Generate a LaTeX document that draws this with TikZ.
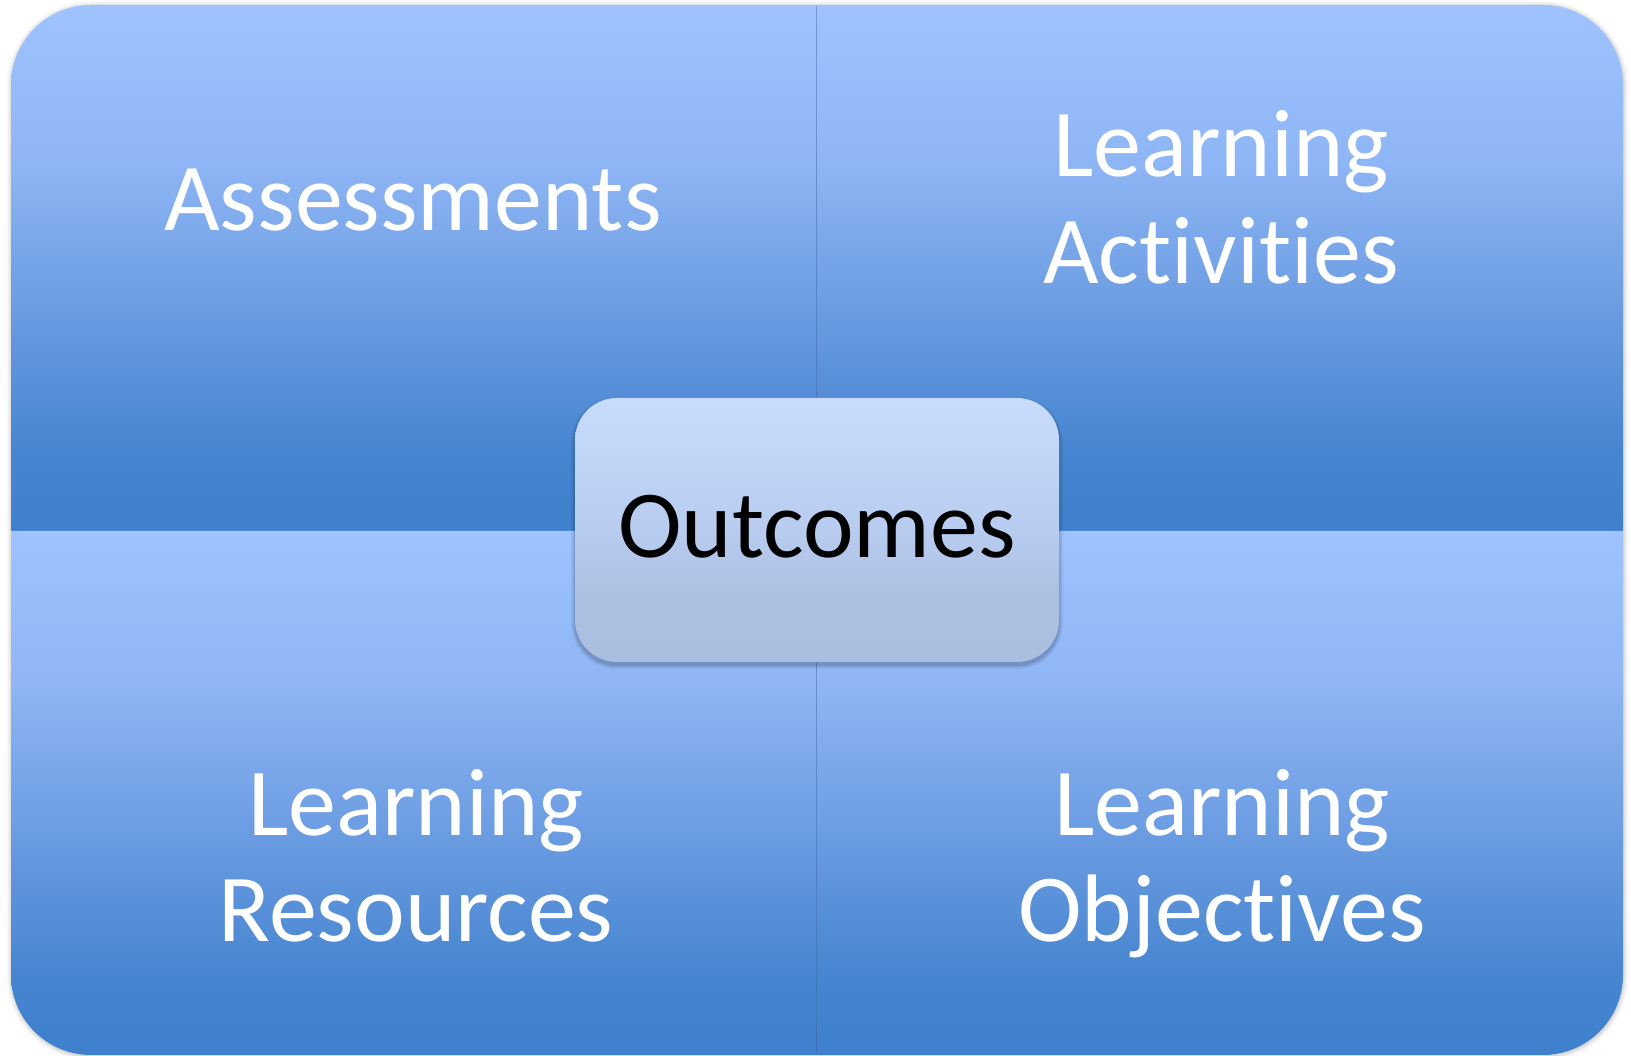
\documentclass[tikz,border=0pt]{standalone}
\usepackage{fontspec}
\setmainfont{Carlito}[Ligatures=NoCommon]
\pgfdeclareverticalshading{quadshade}{100bp}{%
 rgb(0bp)=(0.243,0.502,0.804);
 rgb(25bp)=(0.243,0.502,0.804);
 rgb(32.5bp)=(0.275,0.522,0.816);
 rgb(45bp)=(0.408,0.604,0.878);
 rgb(60bp)=(0.557,0.710,0.961);
 rgb(75bp)=(0.620,0.765,1.0);
 rgb(100bp)=(0.620,0.765,1.0)}
\pgfdeclareverticalshading{centershade}{100bp}{%
 rgb(0bp)=(0.667,0.745,0.878);
 rgb(25bp)=(0.667,0.745,0.878);
 rgb(37.5bp)=(0.678,0.753,0.886);
 rgb(50bp)=(0.722,0.800,0.941);
 rgb(75bp)=(0.784,0.863,0.992);
 rgb(100bp)=(0.784,0.863,0.992)}
\definecolor{divline}{RGB}{60,100,165}
\begin{document}
\begin{tikzpicture}[x=1pt,y=1pt,
  quad/.style={shading=quadshade},
  lbl/.style={text=white, inner sep=0pt, anchor=base, font=\fontsize{96}{106.5}\selectfont},
  outbox/.style={shading=centershade, rounded corners=42pt, minimum width=484pt,
    minimum height=264pt, inner sep=0pt, text=black, text height=62pt, text depth=6pt,
    font=\fontsize{96}{106.5}\selectfont}]
\useasboundingbox (0,0) rectangle (1631,1056);
% soft outer shadow
\foreach \e/\r/\o in {5/85/0.025,3.5/83.5/0.035,2/82/0.045,1/81/0.055}{
  \fill[black,opacity=\o,rounded corners=\r pt] ({11-\e+0.5},{1-\e-1}) rectangle ({1623+\e+0.5},{1051+\e-1});
}
% quadrants
\path[quad] (11,525) -- (11,971) arc[start angle=180,end angle=90,radius=80pt] -- (817,1051) -- (817,525) -- cycle;
\path[quad] (817,525) -- (817,1051) -- (1543,1051) arc[start angle=90,end angle=0,radius=80pt] -- (1623,525) -- cycle;
\path[quad] (11,525) -- (817,525) -- (817,1) -- (91,1) arc[start angle=270,end angle=180,radius=80pt] -- cycle;
\path[quad] (817,525) -- (1623,525) -- (1623,81) arc[start angle=0,end angle=-90,radius=80pt] -- (817,1) -- cycle;
% divider between left and right quadrants
\draw[divline,opacity=0.45,line width=1.6pt] (816.5,1050) -- (816.5,2);
% centre box shadow
\foreach \e/\r/\o in {4/46/0.05,2.5/44.5/0.07,1/43/0.09}{
  \fill[black,opacity=\o,rounded corners=\r pt] ({575-\e},{394-\e-3}) rectangle ({1059+\e},{658+\e-3});
}
\node[outbox] (out) at (817,526) {Outcomes};
% labels
\node[lbl] (assess) at (413,825) {Assessments};
\node[lbl] (act) at (1221,879) {{\begin{tabular}[t]{@{}c@{}}Learning\\Activities\end{tabular}}};
\node[lbl] (res) at (416,220.7) {{\begin{tabular}[t]{@{}c@{}}Learning\\Resources\end{tabular}}};
\node[lbl] (obj) at (1222,220.7) {{\begin{tabular}[t]{@{}c@{}}Learning\\Objectives\end{tabular}}};
\end{tikzpicture}
\end{document}
